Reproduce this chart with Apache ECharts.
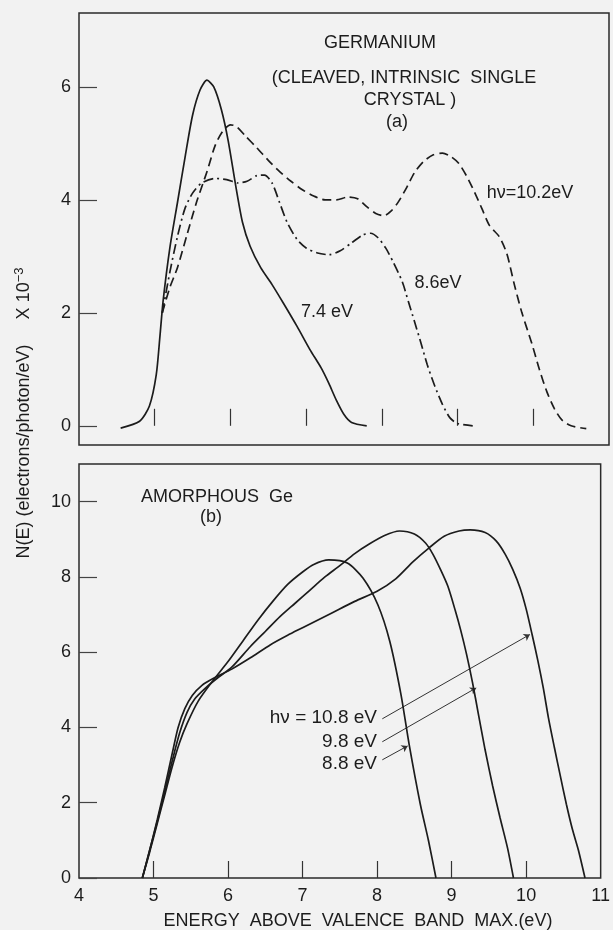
<!DOCTYPE html>
<html><head><meta charset="utf-8">
<script src="https://cdn.jsdelivr.net/npm/echarts@6/dist/echarts.min.js"></script>
<style>html,body{margin:0;padding:0;background:#f2f2f2;}#c{width:613px;height:930px;}</style>
</head><body><div id="c"></div>
<script>
// ---- Panel (a): crystalline Ge, [energy eV, N(E) x1e-3]
const curve74 = [[4.55,-0.04],[4.8,0.08],[4.93,0.35],[5.02,0.9],[5.07,1.6],[5.11,2.2],[5.2,3.15],[5.3,3.95],[5.4,4.75],[5.5,5.5],[5.6,5.95],[5.69,6.12],[5.78,6.0],[5.88,5.6],[5.97,5.05],[6.07,4.25],[6.16,3.6],[6.26,3.18],[6.4,2.8],[6.55,2.5],[6.7,2.17],[6.88,1.76],[7.05,1.35],[7.2,1.02],[7.3,0.75],[7.4,0.45],[7.5,0.2],[7.6,0.06],[7.8,0.0]];
const curve86 = [[5.1,2.0],[5.2,2.72],[5.3,3.35],[5.4,3.85],[5.5,4.12],[5.62,4.3],[5.8,4.38],[5.95,4.36],[6.1,4.3],[6.22,4.33],[6.35,4.43],[6.45,4.44],[6.55,4.3],[6.65,3.95],[6.75,3.6],[6.88,3.3],[7.0,3.15],[7.15,3.06],[7.3,3.03],[7.45,3.1],[7.6,3.24],[7.75,3.38],[7.85,3.41],[7.95,3.33],[8.05,3.15],[8.15,2.9],[8.27,2.55],[8.35,2.2],[8.43,1.85],[8.52,1.45],[8.6,1.08],[8.7,0.7],[8.8,0.38],[8.9,0.14],[9.0,0.04],[9.2,0.0]];
const curve102 = [[5.1,2.0],[5.2,2.45],[5.3,2.8],[5.43,3.4],[5.55,3.95],[5.69,4.5],[5.8,4.97],[5.9,5.22],[6.0,5.33],[6.08,5.3],[6.2,5.13],[6.35,4.92],[6.5,4.7],[6.65,4.5],[6.8,4.33],[6.95,4.18],[7.1,4.07],[7.25,4.0],[7.4,4.0],[7.55,4.05],[7.68,4.02],[7.8,3.88],[7.92,3.76],[8.03,3.72],[8.12,3.8],[8.22,3.97],[8.32,4.2],[8.43,4.48],[8.55,4.68],[8.68,4.8],[8.8,4.83],[8.92,4.76],[9.02,4.64],[9.12,4.42],[9.22,4.15],[9.32,3.85],[9.42,3.55],[9.55,3.35],[9.65,3.05],[9.75,2.5],[9.85,2.0],[9.98,1.46],[10.08,1.0],[10.18,0.6],[10.28,0.3],[10.38,0.1],[10.5,0.0],[10.7,-0.05]];

// ---- Panel (b): amorphous Ge
const amor88 = [[4.85,0],[4.95,0.7],[5.05,1.45],[5.15,2.2],[5.25,2.95],[5.35,3.6],[5.45,4.1],[5.6,4.7],[5.8,5.25],[6.0,5.75],[6.2,6.3],[6.4,6.85],[6.6,7.35],[6.8,7.8],[7.0,8.13],[7.15,8.33],[7.35,8.45],[7.6,8.37],[7.81,7.97],[8.01,7.26],[8.17,6.29],[8.32,4.88],[8.43,3.55],[8.58,1.96],[8.69,0.99],[8.79,0]];
const amor98 = [[4.85,0],[4.95,0.75],[5.05,1.5],[5.15,2.3],[5.25,3.1],[5.35,3.85],[5.45,4.4],[5.55,4.75],[5.7,5.05],[5.85,5.3],[6.05,5.6],[6.3,6.15],[6.5,6.55],[6.7,6.95],[6.9,7.3],[7.1,7.65],[7.3,8.0],[7.5,8.3],[7.7,8.62],[7.9,8.88],[8.1,9.1],[8.3,9.22],[8.5,9.14],[8.65,8.9],[8.75,8.6],[8.85,8.2],[8.95,7.75],[9.05,7.1],[9.12,6.6],[9.2,5.95],[9.28,5.2],[9.36,4.35],[9.45,3.4],[9.55,2.45],[9.65,1.6],[9.75,0.8],[9.83,0]];
const amor108 = [[4.85,0],[4.95,0.75],[5.05,1.55],[5.15,2.4],[5.25,3.3],[5.33,4.0],[5.42,4.5],[5.52,4.85],[5.65,5.12],[5.8,5.3],[6.05,5.55],[6.3,5.85],[6.57,6.2],[6.8,6.45],[7.0,6.65],[7.2,6.85],[7.4,7.05],[7.7,7.35],[8.0,7.62],[8.25,7.95],[8.48,8.4],[8.69,8.76],[8.9,9.08],[9.1,9.22],[9.25,9.25],[9.45,9.18],[9.6,8.95],[9.72,8.6],[9.82,8.2],[9.92,7.7],[10.0,7.15],[10.08,6.47],[10.16,5.75],[10.23,5.05],[10.3,4.25],[10.38,3.46],[10.46,2.7],[10.54,1.96],[10.62,1.3],[10.7,0.75],[10.79,0]];

// leader arrows in panel (b): [from, to]
const arrows = [
  [[8.07,4.23],[10.05,6.47]],
  [[8.07,3.62],[9.33,5.05]],
  [[8.07,3.14],[8.41,3.51]]
];

// ticks / labels
const xTicks = [5,6,7,8,9,10];
const xLabels = [4,5,6,7,8,9,10,11];
const yTicksA = [0,2,4,6];
const yTicksB = [0,2,4,6,8,10];

const FONT = 'Liberation Sans';
const INK = '#1c1c1c';
const chart = echarts.init(document.getElementById('c'), null, {renderer:'canvas'});

function xAxisCfg(idx, showLabels){
  return {
    type:'value', gridIndex: idx, min:4, max:11,
    axisLine:{show:false},
    axisTick:{show:true, inside:true, length:17, customValues:xTicks, lineStyle:{color:'#333', width:1.2}},
    axisLabel:{show:showLabels, customValues:xLabels, margin:9, fontSize:18, color:INK, fontFamily:FONT},
    splitLine:{show:false}
  };
}
function yAxisCfg(idx, min, max, ticks){
  return {
    type:'value', gridIndex: idx, min:min, max:max,
    axisLine:{show:false},
    axisTick:{show:true, inside:true, length:18, customValues:ticks, lineStyle:{color:'#444', width:1.2}},
    axisLabel:{show:true, customValues:ticks, margin:8, fontSize:18, color:INK, fontFamily:FONT},
    splitLine:{show:false}
  };
}
function lineSeries(data, xi, dash){
  return {
    type:'line', xAxisIndex:xi, yAxisIndex:xi, data:data, showSymbol:false, smooth:0.25,
    lineStyle:{color:INK, width:1.7, type:dash || 'solid'}, silent:true, animation:false
  };
}
function txt(text, x, y, size, align){
  return {type:'text', x:x, y:y, silent:true,
    style:{text:text, fill:INK, font:size+'px "'+FONT+'"', textAlign:align||'center', textVerticalAlign:'middle'}};
}

const arrowSeries = {
  type:'lines', coordinateSystem:'cartesian2d', xAxisIndex:1, yAxisIndex:1,
  silent:true, animation:false,
  symbol:['none','arrow'], symbolSize:6,
  lineStyle:{color:'#333', width:1, opacity:1},
  data: arrows.map(a => ({coords:[a[0], a[1]]}))
};

chart.setOption({
  backgroundColor:'#f2f2f2',
  animation:false,
  grid:[
    {left:79, top:13, width:530, height:432, show:true, borderColor:'#2a2a2a', borderWidth:1.5, backgroundColor:'transparent'},
    {left:79, top:464, width:530, height:414, show:true, borderColor:'#2a2a2a', borderWidth:1.5, backgroundColor:'transparent'}
  ],
  xAxis:[xAxisCfg(0,false), xAxisCfg(1,true)],
  yAxis:[yAxisCfg(0,-0.34,7.31,yTicksA), yAxisCfg(1,0,11,yTicksB)],
  series:[
    lineSeries(curve74,0),
    lineSeries(curve86,0,[10,4,2,4]),
    lineSeries(curve102,0,[9,5]),
    lineSeries(amor88,1),
    lineSeries(amor98,1),
    lineSeries(amor108,1),
    arrowSeries
  ],
  graphic:[
    txt('GERMANIUM', 380, 43, 18),
    txt('(CLEAVED, INTRINSIC  SINGLE', 404, 78, 18),
    txt('CRYSTAL )', 410, 100, 18),
    txt('(a)', 397, 122, 18),
    txt('7.4 eV', 327, 312, 18),
    txt('8.6eV', 438, 283, 18),
    txt('h\u03bd=10.2eV', 530, 193, 18),
    txt('AMORPHOUS  Ge', 217, 497, 18),
    txt('(b)', 211, 517, 18),
    txt('h\u03bd = 10.8 eV', 377, 718, 19, 'right'),
    txt('9.8 eV', 377, 742, 19, 'right'),
    txt('8.8 eV', 377, 764, 19, 'right'),
    txt('ENERGY  ABOVE  VALENCE  BAND  MAX.(eV)', 358, 921, 18),
    {type:'text', x:24, y:413, rotation:Math.PI/2, silent:true,
      style:{text:'{a|N(E) (electrons/photon/eV)     X 10}{s|\u22123}', align:'center', verticalAlign:'middle',
        rich:{a:{fontSize:18, fontFamily:FONT, fill:INK}, s:{fontSize:13, fontFamily:FONT, fill:INK, verticalAlign:'top', padding:[0,0,9,0]}}}}
  ]
});
</script></body></html>
